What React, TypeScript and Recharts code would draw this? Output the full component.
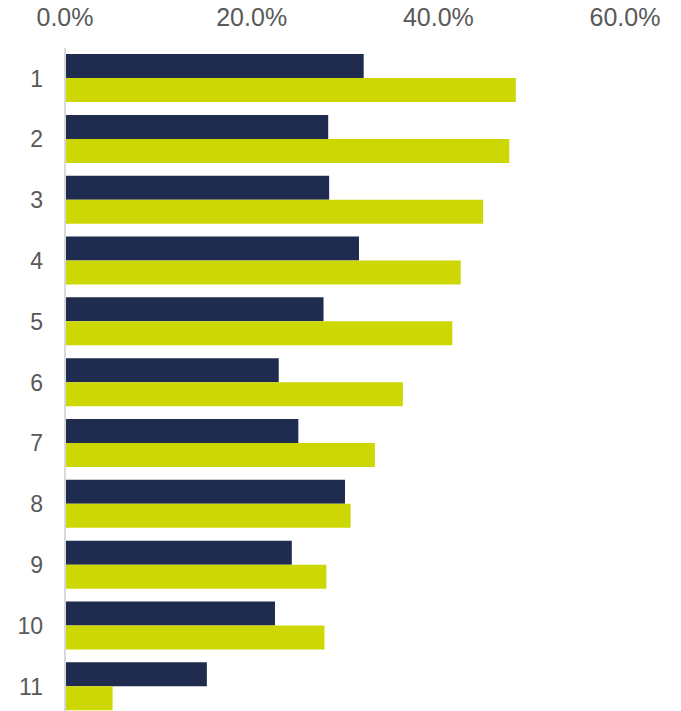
import React from 'react';
import { BarChart, Bar, XAxis, YAxis } from 'recharts';

const categories = ['1', '2', '3', '4', '5', '6', '7', '8', '9', '10', '11'];
const navyValues = [32.0, 28.2, 28.3, 31.5, 27.7, 22.9, 25.0, 30.0, 24.3, 22.5, 15.2];
const limeValues = [48.3, 47.6, 44.8, 42.4, 41.5, 36.2, 33.2, 30.6, 28.0, 27.8, 5.1];
const xTicks = [0, 20, 40, 60];

const data = categories.map((name, i) => ({
  name,
  navy: navyValues[i],
  lime: limeValues[i],
}));

const font = '"Liberation Sans", Arial, sans-serif';

const App: React.FC = () => {
  return (
    <div style={{ position: 'fixed', top: 0, left: 0, width: 681, height: 711, overflow: 'hidden', background: '#fff' }}>
      <BarChart
        width={681}
        height={717}
        data={data}
        layout="vertical"
        margin={{ top: 0, right: 56, bottom: 0, left: 0 }}
        barCategoryGap="10%"
        barGap={0}
      >
        <XAxis
          type="number"
          orientation="top"
          domain={[0, 60]}
          ticks={xTicks}
          tickFormatter={(v: number) => v.toFixed(1) + '%'}
          axisLine={false}
          tickLine={false}
          tickSize={0}
          tickMargin={22}
          height={48}
          interval={0}
          tick={{ fill: '#595959', fontSize: 25, fontFamily: font }}
        />
        <YAxis
          type="category"
          dataKey="name"
          width={65}
          axisLine={{ stroke: '#D9D9D9', strokeWidth: 2 }}
          tickLine={false}
          tickSize={0}
          tickMargin={22}
          interval={0}
          tick={{ fill: '#595959', fontSize: 23, fontFamily: font }}
        />
        <Bar dataKey="navy" fill="#1F2B4F" isAnimationActive={false} />
        <Bar dataKey="lime" fill="#CDD704" isAnimationActive={false} />
      </BarChart>
    </div>
  );
};

export default App;
